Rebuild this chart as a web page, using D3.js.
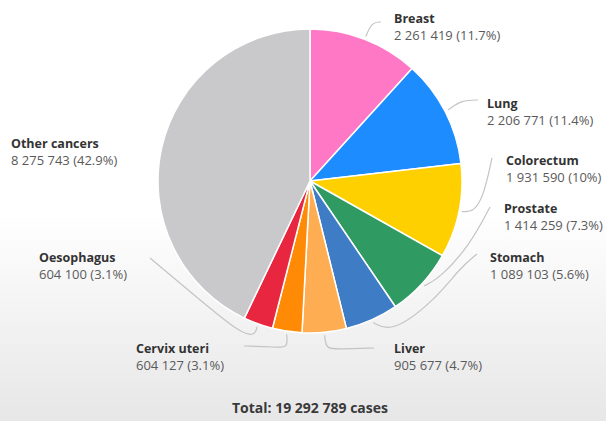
<!DOCTYPE html>
<html lang="en">
  <head>
    <meta charset="UTF-8" />
    <title>Cancer cases pie</title>
    <script src="https://d3js.org/d3.v7.min.js"></script>
    <style>
      body { margin: 0; }
      text { font-family: "Open Sans", sans-serif; }
    </style>
  </head>
  <body>
    <div id="chart"></div>

    <script>
      // data
      const cancers = [
        "Breast",
        "Lung",
        "Colorectum",
        "Prostate",
        "Stomach",
        "Liver",
        "Cervix uteri",
        "Oesophagus",
        "Other cancers",
      ];
      const cases = [2261419, 2206771, 1931590, 1414259, 1089103, 905677, 604127, 604100, 8275743];
      const shares = ["11.7%", "11.4%", "10%", "7.3%", "5.6%", "4.7%", "3.1%", "3.1%", "42.9%"];
      const totalLabel = "Total: 19 292 789 cases";

      const colors = ["#ff78c6", "#1d8cff", "#ffd000", "#2f9a62", "#3e7dc6", "#ffad52", "#ff8a05", "#e8263f", "#c9c8ca"];

      // label placement (text left x, name baseline y) and leader line bends
      const labelPos = [
        { x: 394, y: 23, bend: [[372, 22], [381, 22]] },
        { x: 487, y: 108, bend: [[462, 100], [478, 100]] },
        { x: 506, y: 165, bend: [[474, 212], [484, 195], [492, 158]] },
        { x: 504, y: 213, bend: [[440, 278], [470, 245], [490, 207]] },
        { x: 490, y: 262, bend: [[392, 333], [435, 300], [460, 268], [477, 254]] },
        { x: 394, y: 353, bend: [[326, 349], [338, 349], [374, 348]] },
        { x: 136, y: 353, bend: [[288, 348], [276, 347], [244, 346]] },
        { x: 39, y: 262, bend: [[255, 336], [240, 333], [200, 300], [150, 258]] },
        { x: 11, y: 148, bend: null },
      ];

      const width = 606,
        height = 421,
        cx = 310,
        cy = 181,
        radius = 152;

      const svg = d3
        .select("#chart")
        .append("svg")
        .attr("width", width)
        .attr("height", height);

      // soft grey fade towards the bottom
      const grad = svg.append("defs").append("linearGradient")
        .attr("id", "bg").attr("x1", 0).attr("y1", 0).attr("x2", 0).attr("y2", 1);
      grad.append("stop").attr("offset", "0.5").attr("stop-color", "#ffffff");
      grad.append("stop").attr("offset", "1").attr("stop-color", "#e7e7e8");
      svg.append("rect").attr("width", width).attr("height", height).attr("fill", "url(#bg)");

      const data = cancers.map((name, i) => ({ name, value: cases[i], share: shares[i], color: colors[i], pos: labelPos[i] }));

      const pie = d3.pie().value((d) => d.value).sort(null);
      const arc = d3.arc().innerRadius(0).outerRadius(radius);
      const arcs = pie(data);

      const g = svg.append("g").attr("transform", `translate(${cx},${cy})`);

      g.selectAll("path")
        .data(arcs)
        .join("path")
        .attr("d", arc)
        .attr("fill", (d) => d.data.color)
        .attr("stroke", "#ffffff")
        .attr("stroke-width", 1.5)
        .attr("stroke-linejoin", "round");

      // leader lines
      const line = d3.line().curve(d3.curveBasis);
      svg.append("g")
        .selectAll("path")
        .data(arcs.filter((d) => d.data.pos.bend))
        .join("path")
        .attr("d", (d) => {
          const a = (d.startAngle + d.endAngle) / 2;
          const r = radius + 3;
          const start = [cx + r * Math.sin(a), cy - r * Math.cos(a)];
          return line([start, start, ...d.data.pos.bend, d.data.pos.bend[d.data.pos.bend.length - 1]]);
        })
        .attr("fill", "none")
        .attr("stroke", "#c4c4c6")
        .attr("stroke-width", 1.2);

      // labels
      const fmt = (v) => d3.format(",")(v).replace(/,/g, " ");
      const labels = svg.append("g")
        .selectAll("g")
        .data(data)
        .join("g")
        .attr("transform", (d) => `translate(${d.pos.x},${d.pos.y})`);

      labels.append("text")
        .attr("font-size", 12.5)
        .attr("font-weight", 700)
        .attr("fill", "#333333")
        .text((d) => d.name);

      labels.append("text")
        .attr("y", 17)
        .attr("font-size", 13)
        .attr("fill", "#5a5a5a")
        .text((d) => `${fmt(d.value)} (${d.share})`);

      svg.append("text")
        .attr("x", cx)
        .attr("y", 413)
        .attr("text-anchor", "middle")
        .attr("font-size", 14)
        .attr("font-weight", 700)
        .attr("fill", "#3a3a3a")
        .text(totalLabel);
    </script>
  </body>
</html>
